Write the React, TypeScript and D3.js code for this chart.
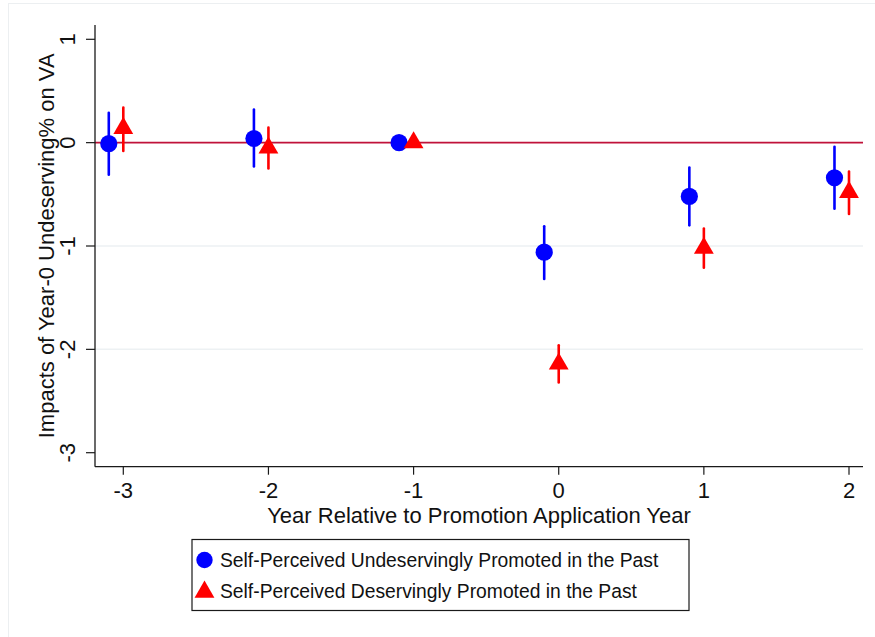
import { useEffect, useRef } from 'react';
import * as d3 from 'd3';

// event time
const years = [-3, -2, -1, 0, 1, 2];

// Self-perceived undeservingly promoted (blue circles)
const undesCoef = [-0.01, 0.04, 0, -1.06, -0.52, -0.34];
const undesLo = [-0.31, -0.23, 0, -1.32, -0.80, -0.64];
const undesHi = [0.29, 0.32, 0, -0.81, -0.24, -0.04];

// Self-perceived deservingly promoted (red triangles)
const desCoef = [0.14, -0.05, 0, -2.14, -1.02, -0.48];
const desLo = [-0.08, -0.25, 0, -2.32, -1.21, -0.69];
const desHi = [0.34, 0.145, 0, -1.96, -0.83, -0.28];

const yTicks = [1, 0, -1, -2, -3];
const gridTicks = [-1, -2];

const legendLabels = [
    'Self-Perceived Undeservingly Promoted in the Past',
    'Self-Perceived Deservingly Promoted in the Past',
];

export default function App() {
    const svgRef = useRef<SVGSVGElement>(null);

    useEffect(() => {
        if (!svgRef.current) return;
        const svg = d3.select(svgRef.current);
        svg.selectAll('*').remove();

        const font = '"Liberation Sans", Arial, Helvetica, sans-serif';
        const blue = '#0000ff';
        const red = '#ff0000';
        const axisColor = '#1a1a1a';

        const x = d3.scaleLinear().domain([-3, 2]).range([123.3, 849]);
        const y = d3.scaleLinear().domain([-3, 1]).range([452.7, 39.3]);

        const left = 95;
        const right = 863;
        const top = 25;
        const bottom = 466.7;

        // faint outer frame
        svg.append('rect')
            .attr('x', 8.5).attr('y', 3.5)
            .attr('width', 900).attr('height', 700)
            .attr('fill', 'none')
            .attr('stroke', '#eceff1')
            .attr('stroke-width', 1);

        // gridlines
        gridTicks.forEach(t => {
            svg.append('line')
                .attr('x1', left).attr('x2', right)
                .attr('y1', y(t)).attr('y2', y(t))
                .attr('stroke', '#edf1f3')
                .attr('stroke-width', 1.5);
        });

        // zero reference line
        svg.append('line')
            .attr('x1', left).attr('x2', right)
            .attr('y1', y(0)).attr('y2', y(0))
            .attr('stroke', '#c0123a')
            .attr('stroke-width', 1.6);

        // axes
        svg.append('line')
            .attr('x1', left).attr('x2', left)
            .attr('y1', top).attr('y2', bottom)
            .attr('stroke', axisColor).attr('stroke-width', 1.3);
        svg.append('line')
            .attr('x1', left).attr('x2', right)
            .attr('y1', bottom).attr('y2', bottom)
            .attr('stroke', axisColor).attr('stroke-width', 1.3);

        // y ticks + labels (vertical, Stata style)
        yTicks.forEach(t => {
            svg.append('line')
                .attr('x1', left - 9).attr('x2', left)
                .attr('y1', y(t)).attr('y2', y(t))
                .attr('stroke', axisColor).attr('stroke-width', 1.2);
            svg.append('text')
                .attr('transform', `translate(74.5,${y(t)}) rotate(-90)`)
                .attr('text-anchor', 'middle')
                .attr('font-family', font)
                .attr('font-size', 22)
                .attr('fill', '#111')
                .text(String(t));
        });

        // x ticks + labels
        years.forEach(t => {
            svg.append('line')
                .attr('x1', x(t)).attr('x2', x(t))
                .attr('y1', bottom).attr('y2', bottom + 8)
                .attr('stroke', axisColor).attr('stroke-width', 1.2);
            svg.append('text')
                .attr('x', x(t)).attr('y', 498)
                .attr('text-anchor', 'middle')
                .attr('font-family', font)
                .attr('font-size', 22)
                .attr('fill', '#111')
                .text(String(t));
        });

        // axis titles
        svg.append('text')
            .attr('transform', `translate(54,${(top + bottom) / 2}) rotate(-90)`)
            .attr('text-anchor', 'middle')
            .attr('font-family', font)
            .attr('font-size', 22)
            .attr('fill', '#111')
            .text('Impacts of Year-0 Undeserving% on VA');
        svg.append('text')
            .attr('x', 479).attr('y', 523)
            .attr('text-anchor', 'middle')
            .attr('font-family', font)
            .attr('font-size', 22)
            .attr('fill', '#111')
            .text('Year Relative to Promotion Application Year');

        const tri = d3.symbol().type(d3.symbolTriangle).size(170);

        // CIs
        years.forEach((t, i) => {
            if (undesHi[i] !== undesLo[i]) {
                svg.append('line')
                    .attr('x1', x(t - 0.1)).attr('x2', x(t - 0.1))
                    .attr('y1', y(undesHi[i])).attr('y2', y(undesLo[i]))
                    .attr('stroke', blue).attr('stroke-width', 2.6)
                    .attr('stroke-linecap', 'round');
            }
            if (desHi[i] !== desLo[i]) {
                svg.append('line')
                    .attr('x1', x(t)).attr('x2', x(t))
                    .attr('y1', y(desHi[i])).attr('y2', y(desLo[i]))
                    .attr('stroke', red).attr('stroke-width', 2.6)
                    .attr('stroke-linecap', 'round');
            }
        });

        // points
        years.forEach((t, i) => {
            svg.append('circle')
                .attr('cx', x(t - 0.1)).attr('cy', y(undesCoef[i]))
                .attr('r', 8.6)
                .attr('fill', blue);
        });
        years.forEach((t, i) => {
            svg.append('path')
                .attr('d', tri)
                .attr('transform', `translate(${x(t)},${y(desCoef[i])})`)
                .attr('fill', red);
        });

        // legend
        const lg = svg.append('g');
        lg.append('rect')
            .attr('x', 192).attr('y', 539.5)
            .attr('width', 497).attr('height', 71)
            .attr('fill', '#fff')
            .attr('stroke', axisColor).attr('stroke-width', 1.2);
        lg.append('circle')
            .attr('cx', 204.5).attr('cy', 560)
            .attr('r', 8.2)
            .attr('fill', blue);
        lg.append('path')
            .attr('d', tri)
            .attr('transform', `translate(204.5,592)`)
            .attr('fill', red);
        legendLabels.forEach((lab, i) => {
            lg.append('text')
                .attr('x', 220).attr('y', 567 + i * 31)
                .attr('font-family', font)
                .attr('font-size', 19.3)
                .attr('fill', '#111')
                .text(lab);
        });
    }, []);

    return (
        <svg
            ref={svgRef}
            width={875}
            height={637}
            style={{ position: 'absolute', left: 0, top: 0, background: '#fff' }}
        />
    );
}
